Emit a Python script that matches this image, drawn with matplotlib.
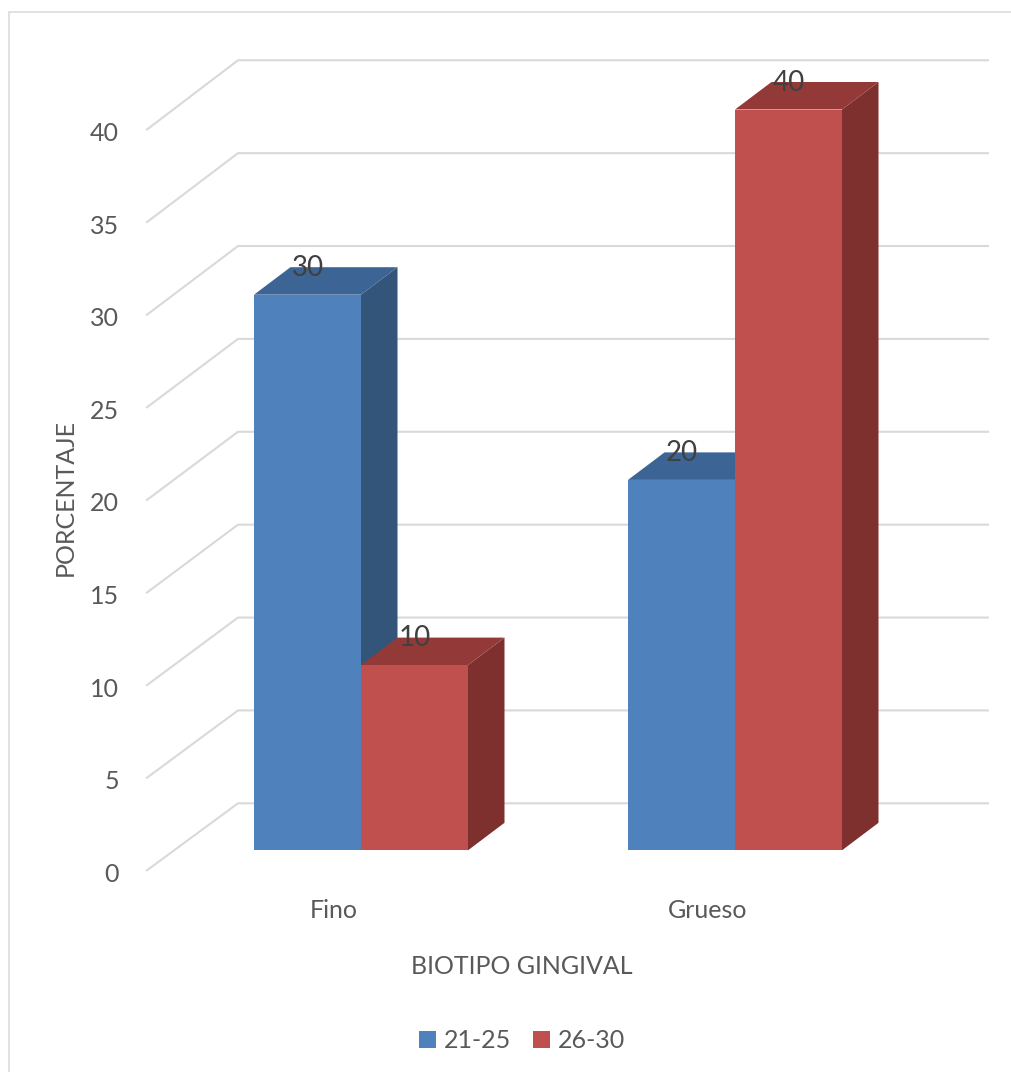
import matplotlib
matplotlib.use("Agg")
import matplotlib.pyplot as plt
from matplotlib.patches import Patch, Polygon, Rectangle

plt.rcParams['font.family'] = ['Lato', 'DejaVu Sans']

# datos
categorias = ["Fino", "Grueso"]
edades = ["21-25", "26-30"]
valores_21_25 = [30, 20]
valores_26_30 = [10, 40]
ticks_y = [0, 5, 10, 15, 20, 25, 30, 35, 40]

ANCHO, ALTO = 1011, 1072
PX_X = 374.0    # px por categoria
PX_Y = 18.52    # px por unidad de porcentaje
X0 = 361.0      # px de la categoria 0 en el plano de las barras
Y0 = 850.3      # px del valor 0 en el plano de las barras

ANCHO_BARRA = 107 / PX_X
PROF_X, PROF_Y = 36.5 / PX_X, 27.5 / PX_Y      # fondo de la barra
FRENTE_X, FRENTE_Y = 27 / PX_X, 20 / PX_Y      # barra -> plano frontal
FONDO_Y = 47 / PX_Y                            # barra -> pared del fondo
ESCALA_FONDO = 1.003                           # la pared del fondo sale un poco mas alta
PARED_FRENTE = (147 - X0) / PX_X
PARED_FONDO = (238 - X0) / PX_X
FIN_PARED = (988 - X0) / PX_X

GRIS_REJILLA = '#d9d9d9'
GRIS_TEXTO = '#595959'
GRIS_ETIQUETA = '#404040'
AZUL = ('#4f81bd', '#3c6494', '#325579')      # frente, arriba, lado
ROJO = ('#c0504d', '#933a38', '#7d302e')


def barra_3d(ax, x, valor, colores):
    """Dibuja una barra con frente, tapa y lado, y su etiqueta de valor."""
    frente, arriba, lado = colores
    der = x + ANCHO_BARRA
    ax.add_patch(Polygon([(der, 0), (der + PROF_X, PROF_Y),
                          (der + PROF_X, valor + PROF_Y), (der, valor)],
                         fc=lado, ec='none', zorder=3))
    ax.add_patch(Polygon([(x, valor), (der, valor),
                          (der + PROF_X, valor + PROF_Y), (x + PROF_X, valor + PROF_Y)],
                         fc=arriba, ec='none', zorder=3))
    ax.add_patch(Rectangle((x, 0), ANCHO_BARRA, valor, fc=frente, ec='none', zorder=3))
    ax.text(x + ANCHO_BARRA / 2, valor + 27 / PX_Y, str(valor), ha='center', va='center',
            fontsize=20, color=GRIS_ETIQUETA, zorder=6)


fig = plt.figure(figsize=(ANCHO / 100, ALTO / 100), dpi=100)
ax = fig.add_axes([0, 0, 1, 1])
ax.set_xlim(-X0 / PX_X, (ANCHO - X0) / PX_X)
ax.set_ylim((Y0 - ALTO) / PX_Y, Y0 / PX_Y)
ax.axis('off')

# marco del grafico
fig.add_artist(Rectangle((8.5 / ANCHO, -0.01), 1.1, 1 - 11.5 / ALTO + 0.01,
                         transform=fig.transFigure, fc='none', ec=GRIS_REJILLA, lw=1.1))

# rejilla: pared izquierda y pared del fondo
for t in ticks_y:
    ax.plot([PARED_FRENTE, PARED_FONDO, FIN_PARED],
            [t - FRENTE_Y, t * ESCALA_FONDO + FONDO_Y, t * ESCALA_FONDO + FONDO_Y],
            color=GRIS_REJILLA, lw=1.5, solid_joinstyle='miter', zorder=1)
    ax.text(PARED_FRENTE - 28 / PX_X, t - FRENTE_Y - 4 / PX_Y, str(t), ha='right', va='center',
            fontsize=18, color=GRIS_TEXTO)

# barras
for i, cat in enumerate(categorias):
    barra_3d(ax, i - ANCHO_BARRA, valores_21_25[i], AZUL)
    barra_3d(ax, i, valores_26_30[i], ROJO)
    ax.text(i - FRENTE_X, (Y0 - 910) / PX_Y, cat, ha='center', va='center',
            fontsize=18, color=GRIS_TEXTO)

# titulos de ejes
ax.text((65 - X0) / PX_X, (Y0 - 497) / PX_Y, "PORCENTAJE", rotation=90, ha='center', va='center',
        fontsize=18, color=GRIS_TEXTO)
ax.text((522 - X0) / PX_X, (Y0 - 966) / PX_Y, "BIOTIPO GINGIVAL", ha='center', va='center',
        fontsize=18, color=GRIS_TEXTO)

# leyenda
manejadores = [Patch(fc=AZUL[0], label=edades[0]), Patch(fc=ROJO[0], label=edades[1])]
ax.legend(handles=manejadores, loc='center', bbox_to_anchor=(522 / ANCHO, 1 - 1041 / ALTO),
          ncol=2, frameon=False, fontsize=18, labelcolor=GRIS_TEXTO,
          handlelength=0.68, handleheight=0.68, handletextpad=0.3, columnspacing=0.9)

fig.savefig("out.png", dpi=100)
